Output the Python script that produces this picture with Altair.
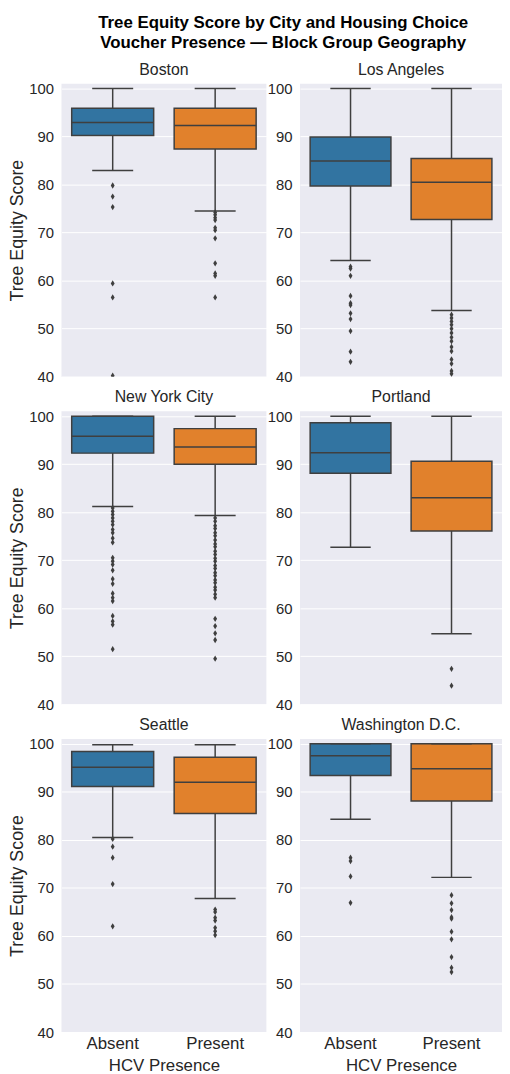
import altair as alt
import pandas as pd

cities = ["Boston", "Los Angeles", "New York City", "Portland", "Seattle", "Washington D.C."]
groups = ["Absent", "Present"]

# [Absent, Present] per city
whisker_low = [[82.9, 74.5], [64.2, 53.8], [81.2, 79.3], [72.7, 54.7], [80.5, 67.8], [84.3, 72.2]]
q1_vals = [[90.2, 87.4], [79.7, 72.7], [92.3, 90.0], [88.1, 76.1], [91.1, 85.5], [93.4, 88.1]]
median_vals = [[92.9, 92.3], [84.9, 80.5], [95.8, 93.6], [92.4, 83.0], [95.1, 92.0], [97.5, 94.8]]
q3_vals = [[95.9, 95.9], [89.9, 85.4], [100.0, 97.4], [98.6, 90.6], [98.4, 97.2], [100.0, 100.0]]
whisker_high = [[100.0, 100.0], [100.0, 100.0], [100.0, 100.0], [100.0, 100.0], [99.8, 99.8], [100.0, 100.0]]

outliers_absent = [
    [79.8, 77.5, 75.3, 59.4, 56.5, 40.2],
    [62.9, 62.5, 61.0, 56.8, 55.3, 54.9, 53.2, 52.0, 49.5, 45.2, 43.1],
    [80.9, 80.2, 79.5, 78.8, 78.1, 77.4, 76.4, 75.7, 74.6, 73.7, 70.5, 69.8, 69.1,
     67.9, 66.1, 65.1, 63.1, 62.2, 61.5, 58.4, 57.3, 56.6, 51.5],
    [],
    [80.2, 78.6, 76.3, 70.8, 62.0],
    [76.3, 75.6, 72.4, 66.9],
]
outliers_present = [
    [74.2, 73.7, 73.1, 72.6, 71.0, 70.5, 68.8, 63.6, 61.5, 61.0, 56.5],
    [52.9, 52.2, 51.5, 50.8, 50.0, 49.1, 48.2, 47.4, 46.2, 45.3, 43.6, 42.7, 41.2, 40.6],
    [78.8, 78.1, 77.2, 76.6, 75.7, 75.1, 74.2, 73.4, 72.8, 71.9, 71.2, 70.4, 69.8, 68.9,
     68.3, 67.4, 66.8, 65.9, 65.3, 64.4, 63.8, 62.9, 62.2, 57.8, 56.3, 54.8, 53.4, 49.5],
    [47.4, 43.9],
    [65.5, 65.0, 63.8, 63.2, 61.7, 61.0, 60.2],
    [68.5, 66.8, 65.4, 63.9, 63.6, 60.9, 59.3, 55.6, 53.4, 52.5],
]

y_ticks = [40, 50, 60, 70, 80, 90, 100]

BLUE = "#3274a1"
ORANGE = "#e1812c"
LINE = "#3f3f3f"
TEXT = "#262626"
FONT = "Liberation Sans"
DIAMOND = "M0,-1L0.62,0L0,1L-0.62,0Z"

W_LEFT = 207
W_RIGHT = 204
H = 296


def panel(i, left, bottom, width):
    box_df = pd.DataFrame({
        "group": groups,
        "lo": whisker_low[i],
        "q1": q1_vals[i],
        "med": median_vals[i],
        "q3": q3_vals[i],
        "hi": whisker_high[i],
    })
    out_df = pd.DataFrame({
        "group": ["Absent"] * len(outliers_absent[i]) + ["Present"] * len(outliers_present[i]),
        "value": outliers_absent[i] + outliers_present[i],
    })
    band = width / 2.0
    if bottom:
        xaxis = alt.Axis(title="HCV Presence", labelAngle=0, labelFontSize=17,
                         titleFontSize=17, titleFontWeight="normal", labelPadding=4,
                         titlePadding=6, domain=False, ticks=False, grid=False,
                         labelColor=TEXT, titleColor=TEXT)
    else:
        xaxis = None
    xs = alt.Scale(domain=groups, paddingInner=0, paddingOuter=0)
    ys = alt.Scale(domain=[40, 101], nice=False, zero=False)
    yaxis = alt.Axis(values=y_ticks, title="Tree Equity Score" if left else None,
                     labelFontSize=15, titleFontSize=18, titleFontWeight="normal",
                     titlePadding=2, labelPadding=8, domain=False, ticks=False,
                     grid=True, gridColor="white", gridWidth=1,
                     labelColor=TEXT, titleColor=TEXT)

    def X():
        return alt.X("group:N", scale=xs, axis=xaxis, title="HCV Presence" if bottom else None)

    def Y(f):
        return alt.Y(f, scale=ys, axis=yaxis, title="Tree Equity Score" if left else None)

    base = alt.Chart(box_df)
    whisk = base.mark_rule(color=LINE, strokeWidth=1.5).encode(x=X(), y=Y("lo:Q"), y2="hi:Q")
    box = base.mark_bar(width=alt.RelativeBandSize(0.8), stroke=LINE, strokeWidth=1.5,
                        opacity=1).encode(
        x=X(), y=Y("q1:Q"), y2="q3:Q",
        color=alt.Color("group:N", scale=alt.Scale(domain=groups, range=[BLUE, ORANGE]), legend=None),
    )
    med = base.mark_tick(size=band * 0.8, thickness=1.5, color=LINE, opacity=1).encode(x=X(), y=Y("med:Q"))
    cap_lo = base.mark_tick(size=band * 0.4, thickness=1.5, color=LINE, opacity=1).encode(x=X(), y=Y("lo:Q"))
    cap_hi = base.mark_tick(size=band * 0.4, thickness=1.5, color=LINE, opacity=1).encode(x=X(), y=Y("hi:Q"))
    pts = alt.Chart(out_df).mark_point(shape=DIAMOND, filled=True, size=40, color=LINE,
                                       opacity=1, clip=True).encode(x=X(), y=Y("value:Q"))
    return alt.layer(whisk, box, med, cap_lo, cap_hi, pts).properties(
        width=width, height=H,
        title=alt.TitleParams(cities[i], fontSize=16, fontWeight="normal", color=TEXT,
                              offset=4, font=FONT),
    )


rows = []
for r in range(3):
    bottom = r == 2
    left_p = panel(2 * r, True, bottom, W_LEFT)
    right_p = panel(2 * r + 1, False, bottom, W_RIGHT)
    rows.append(alt.hconcat(left_p, right_p, spacing=0))

chart = alt.vconcat(*rows, spacing=4).properties(
    padding=0,
    title=alt.TitleParams(
        ["Tree Equity Score by City and Housing Choice", "Voucher Presence \u2014 Block Group Geography"],
        fontSize=17, fontWeight="bold", anchor="middle", offset=10, lineHeight=20, dx=28,
        color="black", font=FONT,
    ),
).configure(font=FONT).configure_view(fill="#EAEAF2", stroke=None).configure_axis(
    labelFont=FONT, titleFont=FONT
)

chart.save("out.html", embed_options={"renderer": "svg", "actions": False})
